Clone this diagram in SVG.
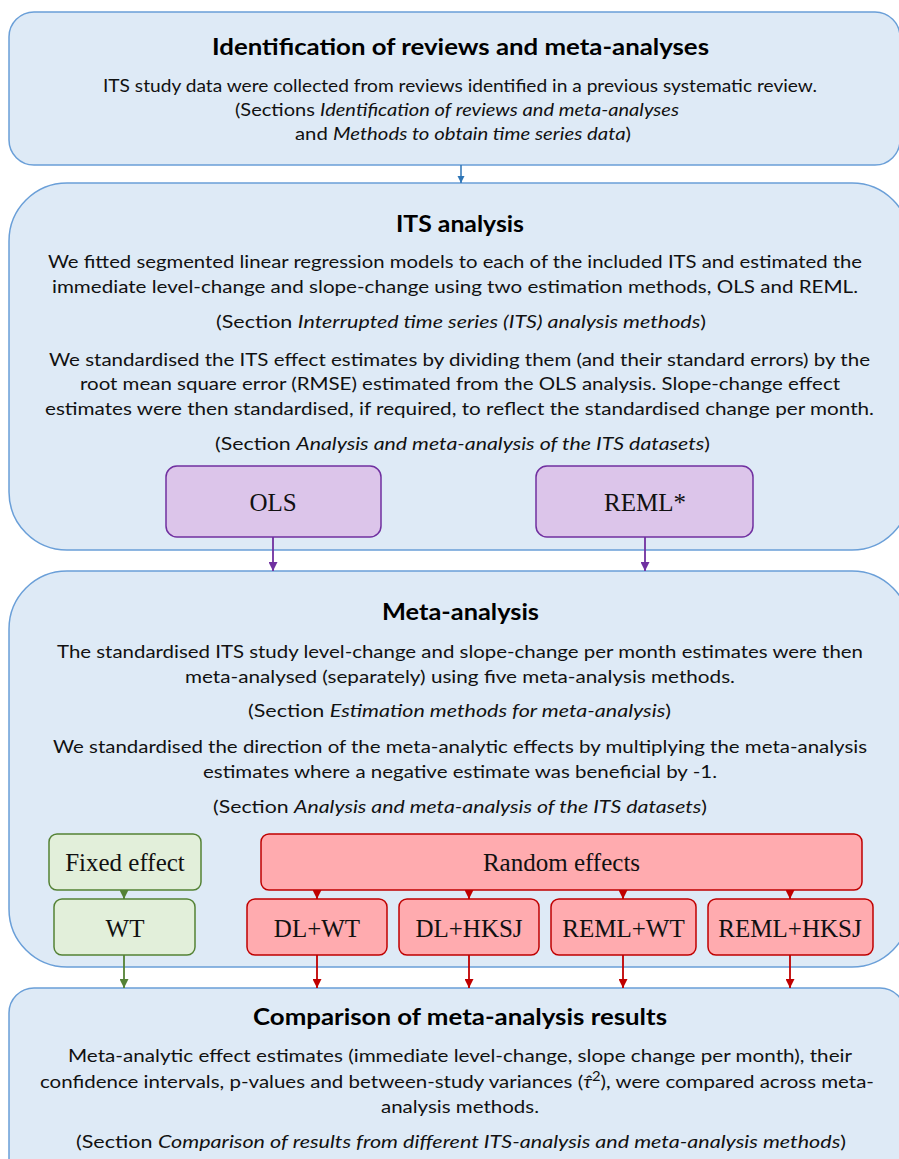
<svg xmlns="http://www.w3.org/2000/svg" width="899" height="1159" viewBox="0 0 899 1159">
<style>
.big{fill:#deeaf6;stroke:#6a9fd8;stroke-width:1.5}
.pur{fill:#dcc5ea;stroke:#7030a0;stroke-width:1.5}
.grn{fill:#e2efda;stroke:#548235;stroke-width:1.5}
.red{fill:#ffabaf;stroke:#c00000;stroke-width:1.5}
.t{font-family:Lato,"Open Sans",sans-serif;font-size:18px;fill:#111}
.h{font-family:Lato,"Open Sans",sans-serif;font-size:23px;font-weight:bold;fill:#000}
.l{font-family:"Liberation Serif","Times New Roman",serif;font-size:25px;fill:#111;text-anchor:middle}
.i{font-style:italic}
.cb{stroke:#2e75b6;stroke-width:1.5;fill:none}
.cp{stroke:#7030a0;stroke-width:1.8;fill:none}
.cg{stroke:#548235;stroke-width:1.8;fill:none}
.cr{stroke:#c00000;stroke-width:1.8;fill:none}
</style>
<defs>
<marker id="ab" viewBox="0 0 8 8" refX="8" refY="4" markerWidth="5" markerHeight="5" orient="auto"><path d="M0,0L8,4L0,8z" fill="#2e75b6"/></marker>
<marker id="ap" viewBox="0 0 8 8" refX="8" refY="4" markerWidth="5" markerHeight="5" orient="auto"><path d="M0,0L8,4L0,8z" fill="#7030a0"/></marker>
<marker id="ag" viewBox="0 0 8 8" refX="8" refY="4" markerWidth="5" markerHeight="5" orient="auto"><path d="M0,0L8,4L0,8z" fill="#548235"/></marker>
<marker id="ar" viewBox="0 0 8 8" refX="8" refY="4" markerWidth="5" markerHeight="5" orient="auto"><path d="M0,0L8,4L0,8z" fill="#c00000"/></marker>
</defs>

<g id="identification">
<rect class="big" x="9" y="12" width="891" height="153" rx="25"/>
<text class="h" x="212" y="55" textLength="497" lengthAdjust="spacingAndGlyphs">Identification of reviews and meta-analyses</text>
<text class="t" x="103" y="92" textLength="714" lengthAdjust="spacingAndGlyphs">ITS study data were collected from reviews identified in a previous systematic review.</text>
<text class="t" x="235" y="116" textLength="444" lengthAdjust="spacingAndGlyphs">(Sections <tspan class="i">Identification of reviews and meta-analyses</tspan></text>
<text class="t" x="295" y="140" textLength="336" lengthAdjust="spacingAndGlyphs">and <tspan class="i">Methods to obtain time series data</tspan>)</text>
</g>

<g id="its-analysis">
<rect class="big" x="9" y="183" width="901" height="367" rx="58"/>
<text class="h" x="396" y="232" textLength="128" lengthAdjust="spacingAndGlyphs">ITS analysis</text>
<text class="t" x="48" y="268" textLength="814" lengthAdjust="spacingAndGlyphs">We fitted segmented linear regression models to each of the included ITS and estimated the</text>
<text class="t" x="52" y="293" textLength="806" lengthAdjust="spacingAndGlyphs">immediate level-change and slope-change using two estimation methods, OLS and REML.</text>
<text class="t" x="216" y="328" textLength="490" lengthAdjust="spacingAndGlyphs">(Section <tspan class="i">Interrupted time series (ITS) analysis methods</tspan>)</text>
<text class="t" x="49" y="366" textLength="821" lengthAdjust="spacingAndGlyphs">We standardised the ITS effect estimates by dividing them (and their standard errors) by the</text>
<text class="t" x="80" y="390" textLength="760" lengthAdjust="spacingAndGlyphs">root mean square error (RMSE) estimated from the OLS analysis. Slope-change effect</text>
<text class="t" x="45" y="415" textLength="829" lengthAdjust="spacingAndGlyphs">estimates were then standardised, if required, to reflect the standardised change per month.</text>
<text class="t" x="215" y="450" textLength="495" lengthAdjust="spacingAndGlyphs">(Section <tspan class="i">Analysis and meta-analysis of the ITS datasets</tspan>)</text>
</g>

<g id="ols">
<rect class="pur" x="166" y="466" width="215" height="71" rx="11"/>
<text class="l" x="273" y="511">OLS</text>
</g>
<g id="reml">
<rect class="pur" x="536" y="466" width="217" height="71" rx="11"/>
<text class="l" x="645" y="511">REML*</text>
</g>

<g id="meta-analysis">
<rect class="big" x="9" y="571" width="901" height="396" rx="58"/>
<text class="h" x="382" y="620" textLength="157" lengthAdjust="spacingAndGlyphs">Meta-analysis</text>
<text class="t" x="57" y="658" textLength="806" lengthAdjust="spacingAndGlyphs">The standardised ITS study level-change and slope-change per month estimates were then</text>
<text class="t" x="185" y="683" textLength="550" lengthAdjust="spacingAndGlyphs">meta-analysed (separately) using five meta-analysis methods.</text>
<text class="t" x="248" y="717" textLength="423" lengthAdjust="spacingAndGlyphs">(Section <tspan class="i">Estimation methods for meta-analysis</tspan>)</text>
<text class="t" x="53" y="753" textLength="814" lengthAdjust="spacingAndGlyphs">We standardised the direction of the meta-analytic effects by multiplying the meta-analysis</text>
<text class="t" x="203" y="778" textLength="514" lengthAdjust="spacingAndGlyphs">estimates where a negative estimate was beneficial by -1.</text>
<text class="t" x="213" y="813" textLength="494" lengthAdjust="spacingAndGlyphs">(Section <tspan class="i">Analysis and meta-analysis of the ITS datasets</tspan>)</text>
</g>

<g id="fixed-effect">
<rect class="grn" x="49" y="834" width="152" height="56" rx="8"/>
<text class="l" x="125" y="871">Fixed effect</text>
</g>
<g id="wt">
<rect class="grn" x="54" y="899" width="141" height="56" rx="8"/>
<text class="l" x="125" y="937">WT</text>
</g>
<g id="random-effects">
<rect class="red" x="261" y="834" width="601" height="56" rx="8"/>
<text class="l" x="561.5" y="871">Random effects</text>
</g>
<g id="dl-wt">
<rect class="red" x="247" y="899" width="140" height="56" rx="8"/>
<text class="l" x="317" y="937">DL+WT</text>
</g>
<g id="dl-hksj">
<rect class="red" x="399" y="899" width="140" height="56" rx="8"/>
<text class="l" x="469" y="937">DL+HKSJ</text>
</g>
<g id="reml-wt">
<rect class="red" x="551" y="899" width="145" height="56" rx="8"/>
<text class="l" x="623.5" y="937">REML+WT</text>
</g>
<g id="reml-hksj">
<rect class="red" x="708" y="899" width="165" height="56" rx="8"/>
<text class="l" x="790" y="937">REML+HKSJ</text>
</g>

<g id="comparison">
<rect class="big" x="9" y="988" width="896" height="200" rx="25"/>
<text class="h" x="253" y="1025" textLength="414" lengthAdjust="spacingAndGlyphs">Comparison of meta-analysis results</text>
<text class="t" x="68" y="1062" textLength="784" lengthAdjust="spacingAndGlyphs">Meta-analytic effect estimates (immediate level-change, slope change per month), their</text>
<text class="t" x="40" y="1088" textLength="834" lengthAdjust="spacingAndGlyphs">confidence intervals, p-values and between-study variances (<tspan class="i">τ̂</tspan><tspan font-size="13" dy="-7">2</tspan><tspan dy="7">), were compared across meta-</tspan></text>
<text class="t" x="381" y="1113" textLength="158" lengthAdjust="spacingAndGlyphs">analysis methods.</text>
<text class="t" x="76" y="1148" textLength="770" lengthAdjust="spacingAndGlyphs">(Section <tspan class="i">Comparison of results from different ITS-analysis and meta-analysis methods</tspan>)</text>
</g>

<g id="connectors">
<line class="cb" x1="461" y1="165" x2="461" y2="183" marker-end="url(#ab)"/>
<line class="cp" x1="273" y1="537" x2="273" y2="571" marker-end="url(#ap)"/>
<line class="cp" x1="645" y1="537" x2="645" y2="571" marker-end="url(#ap)"/>
<line class="cg" x1="124" y1="890" x2="124" y2="899" marker-end="url(#ag)"/>
<line class="cg" x1="124" y1="955" x2="124" y2="988" marker-end="url(#ag)"/>
<line class="cr" x1="317" y1="890" x2="317" y2="899" marker-end="url(#ar)"/>
<line class="cr" x1="469" y1="890" x2="469" y2="899" marker-end="url(#ar)"/>
<line class="cr" x1="623" y1="890" x2="623" y2="899" marker-end="url(#ar)"/>
<line class="cr" x1="790" y1="890" x2="790" y2="899" marker-end="url(#ar)"/>
<line class="cr" x1="317" y1="955" x2="317" y2="988" marker-end="url(#ar)"/>
<line class="cr" x1="469" y1="955" x2="469" y2="988" marker-end="url(#ar)"/>
<line class="cr" x1="623" y1="955" x2="623" y2="988" marker-end="url(#ar)"/>
<line class="cr" x1="790" y1="955" x2="790" y2="988" marker-end="url(#ar)"/>
</g>
</svg>
